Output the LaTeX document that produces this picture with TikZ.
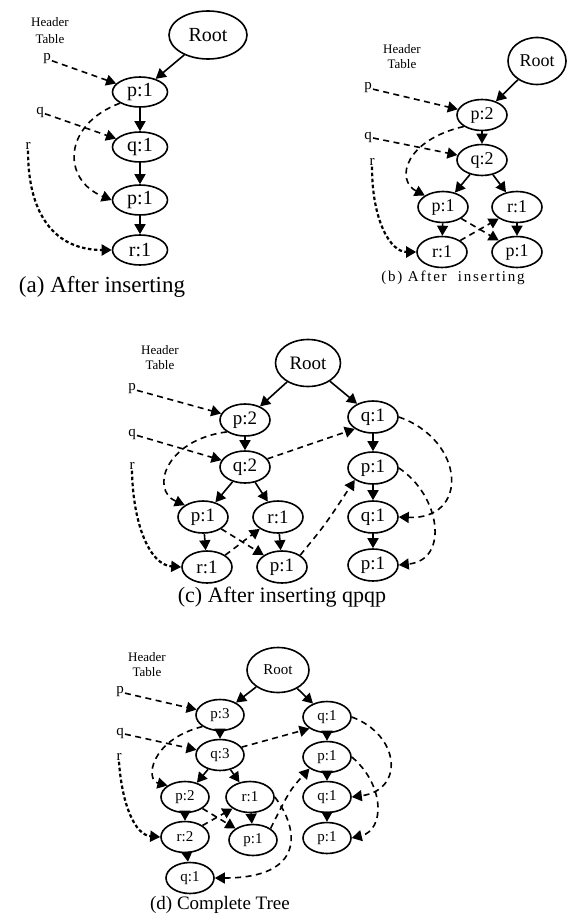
\documentclass[tikz,border=0pt]{standalone}
\usepackage{fontspec}
\setmainfont{Liberation Serif}
\newfontfamily\spacedserif[LetterSpace=12]{Liberation Serif}
\usepackage{tikz}
\usetikzlibrary{shapes.geometric,arrows.meta}
\newcommand{\fsz}[1]{\fontsize{#1}{#1}\selectfont}
\tikzset{
	tnode/.style={draw,ellipse,line width=1.6pt,inner sep=0pt},
	link/.style={line width=1.6pt,-{Triangle[length=10pt,width=11pt]}},
	hptr/.style={line width=1.6pt,dash pattern=on 6pt off 4.5pt,-{Triangle[length=10pt,width=11pt]}},
	rptr/.style={line width=2.2pt,dash pattern=on 3.5pt off 2.5pt,-{Triangle[length=10pt,width=11pt]}},
	hdr/.style={align=center,inner sep=0pt,font=\fontsize{13}{15}\selectfont},
	hlabel/.style={inner sep=1pt,font=\fsz{15}},
	capt/.style={inner sep=0pt}
}

\begin{document}
\begin{tikzpicture}[x=1pt,y=-1pt]
	\useasboundingbox (0,0) rectangle (567,915);

	\begin{scope}[tnode/.append style={minimum width=55pt,minimum height=30pt,font=\fsz{20}}]
		\node[tnode,minimum width=78pt,minimum height=48pt] (ra) at (208,35) {Root};
		\node[tnode] (pa1) at (140,92) {p:1};
		\node[tnode] (qa1) at (140,147) {q:1};
		\node[tnode] (pa2) at (140,200) {p:1};
		\node[tnode] (ra1) at (140,250) {r:1};
		\node[hdr,font=\fontsize{13}{17}\selectfont] (hda) at (50,31) {Header\\Table};
		\node[hlabel] (hpa) at (47,59) {p};
		\node[hlabel] (hqa) at (40,112) {q};
		\node[hlabel] (hra) at (28,146) {r};
		\draw[link] (ra) -- (pa1);
		\draw[link] (pa1) -- (qa1);
		\draw[link] (qa1) -- (pa2);
		\draw[link] (pa2) -- (ra1);
		\draw[hptr] (hpa) -- (pa1);
		\draw[hptr] (hqa) -- (qa1);
		\draw[hptr] (pa1.south west) .. controls (62,125) and (62,180) .. (pa2.west);
		\draw[rptr] (hra.south) .. controls (28,215) and (55,250) .. (ra1.west);
		\node[capt,font=\fsz{23}] (capa) at (102,287) {(a) After inserting};
	\end{scope}

	\begin{scope}[tnode/.append style={minimum width=50pt,minimum height=31pt,font=\fsz{18}}]
		\node[tnode,minimum width=58pt,minimum height=47pt] (rb) at (537,61) {Root};
		\node[tnode] (pb2) at (482,115) {p:2};
		\node[tnode] (qb2) at (482,160) {q:2};
		\node[tnode] (pb1) at (443,207) {p:1};
		\node[tnode] (rb1) at (517,207) {r:1};
		\node[tnode] (rbb) at (442,252) {r:1};
		\node[tnode] (pbb) at (517,252) {p:1};
		\node[hdr] (hdb) at (402,57) {Header\\Table};
		\node[hlabel] (hpb) at (368,88) {p};
		\node[hlabel] (hqb) at (368,137) {q};
		\node[hlabel] (hrb) at (372,162) {r};
		\draw[link] (rb) -- (pb2);
		\draw[link] (pb2) -- (qb2);
		\draw[link] (qb2) -- (pb1);
		\draw[link] (qb2) -- (rb1);
		\draw[link] (pb1) -- (rbb);
		\draw[link] (rb1) -- (pbb);
		\draw[hptr] (hpb) -- (pb2);
		\draw[hptr] (hqb) -- (qb2);
		\draw[hptr] (pb2.south west) .. controls (405,140) and (395,180) .. (pb1.north west);
		\draw[rptr] (hrb.south) .. controls (372,220) and (390,252) .. (rbb.west);
		\draw[hptr] (rbb.north east) -- (rb1.south west);
		\draw[hptr] (pb1.south east) -- (pbb.north west);
		\node[capt,font=\spacedserif\fsz{15}] (capb) at (453,278) {(b) After\ \ inserting};
	\end{scope}

	\begin{scope}[tnode/.append style={minimum width=50pt,minimum height=32pt,font=\fsz{19}}]
		\node[tnode,minimum width=65pt,minimum height=47pt] (rc) at (308,363) {Root};
		\node[tnode] (pc2) at (245,420) {p:2};
		\node[tnode] (qc2) at (245,467) {q:2};
		\node[tnode] (pc1) at (203,517) {p:1};
		\node[tnode] (rc1) at (278,517) {r:1};
		\node[tnode] (rcb) at (207,567) {r:1};
		\node[tnode] (pcb) at (282,567) {p:1};
		\node[tnode] (qcr) at (373,417) {q:1};
		\node[tnode] (pcr) at (373,468) {p:1};
		\node[tnode] (qcr3) at (373,517) {q:1};
		\node[tnode] (pcr4) at (373,565) {p:1};
		\node[hdr] (hdc) at (160,358) {Header\\Table};
		\node[hlabel] (hpc) at (132,389) {p};
		\node[hlabel] (hqc) at (132,434) {q};
		\node[hlabel] (hrc) at (132,466) {r};
		\draw[link] (rc) -- (pc2);
		\draw[link] (rc) -- (qcr);
		\draw[link] (pc2) -- (qc2);
		\draw[link] (qc2) -- (pc1);
		\draw[link] (qc2) -- (rc1);
		\draw[link] (pc1) -- (rcb);
		\draw[link] (rc1) -- (pcb);
		\draw[link] (qcr) -- (pcr);
		\draw[link] (pcr) -- (qcr3);
		\draw[link] (qcr3) -- (pcr4);
		\draw[hptr] (hpc) -- (pc2);
		\draw[hptr] (hqc) -- (qc2);
		\draw[hptr] (pc2.south west) .. controls (165,440) and (150,490) .. (pc1.north west);
		\draw[rptr] (hrc.south) .. controls (133,525) and (150,565) .. (rcb.west);
		\draw[hptr] (rcb.north east) -- (rc1.south west);
		\draw[hptr] (pc1.south east) -- (pcb.north west);
		\draw[hptr] (qc2.20) -- (qcr.south west);
		\draw[hptr] (pcb.north east) .. controls (325,525) .. (pcr.south west);
		\draw[hptr] (qcr.east) .. controls (465,440) and (470,520) .. (qcr3.east);
		\draw[hptr] (pcr.east) .. controls (440,495) and (450,560) .. (pcr4.east);
		\node[capt,font=\fsz{22}] (capc) at (282,597) {(c) After inserting qpqp};
	\end{scope}

	\begin{scope}[tnode/.append style={minimum width=48pt,minimum height=31pt,font=\fsz{15}}]
		\node[tnode,minimum width=62pt,minimum height=45pt] (rd) at (278,670) {Root};
		\node[tnode] (pd3) at (220,715) {p:3};
		\node[tnode] (qd3) at (220,755) {q:3};
		\node[tnode] (pd2) at (185,797) {p:2};
		\node[tnode] (rd1) at (250,797) {r:1};
		\node[tnode] (rd2) at (185,837) {r:2};
		\node[tnode] (pdm) at (253,840) {p:1};
		\node[tnode] (qdb) at (190,878) {q:1};
		\node[tnode] (qdr) at (327,717) {q:1};
		\node[tnode] (pdr) at (327,757) {p:1};
		\node[tnode] (qdr3) at (327,797) {q:1};
		\node[tnode] (pdr4) at (327,838) {p:1};
		\node[hdr] (hdd) at (147,665) {Header\\Table};
		\node[hlabel] (hpd) at (120,692) {p};
		\node[hlabel] (hqd) at (120,733) {q};
		\node[hlabel] (hrd) at (119,757) {r};
		\draw[link] (rd) -- (pd3);
		\draw[link] (rd) -- (qdr);
		\draw[link] (pd3) -- (qd3);
		\draw[link] (qd3) -- (pd2);
		\draw[link] (qd3) -- (rd1);
		\draw[link] (pd2) -- (rd2);
		\draw[link] (rd2) -- (qdb);
		\draw[link] (rd1) -- (pdm);
		\draw[link] (qdr) -- (pdr);
		\draw[link] (pdr) -- (qdr3);
		\draw[link] (qdr3) -- (pdr4);
		\draw[hptr] (hpd) -- (pd3);
		\draw[hptr] (hqd) -- (qd3);
		\draw[hptr] (pd3.south west) .. controls (150,740) and (145,780) .. (pd2.north west);
		\draw[rptr] (hrd.south) .. controls (122,805) and (135,835) .. (rd2.west);
		\draw[hptr] (rd2.north east) -- (rd1.south west);
		\draw[hptr] (pd2.south east) -- (pdm.north west);
		\draw[hptr] (qd3.20) -- (qdr.south west);
		\draw[hptr] (pdm.north east) .. controls (290,790) .. (pdr.south west);
		\draw[hptr] (qdr.east) .. controls (400,735) and (405,790) .. (qdr3.east);
		\draw[hptr] (pdr.east) .. controls (385,785) and (385,830) .. (pdr4.east);
		\draw[hptr] (rd1.east) .. controls (300,830) and (305,878) .. (qdb.east);
		\node[capt,font=\fsz{19}] (capd) at (220,905) {(d) Complete Tree};
	\end{scope}
\end{tikzpicture}
\end{document}
